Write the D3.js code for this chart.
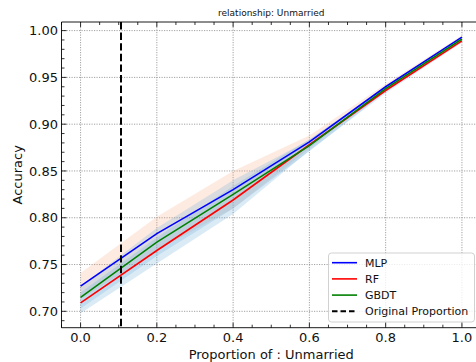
<!DOCTYPE html>
<html>
<head>
<meta charset="utf-8">
<script src="https://cdn.jsdelivr.net/npm/d3@7"></script>
<style>
  body { margin: 0; background: #fff; }
  svg { display: block; font-family: "DejaVu Sans", sans-serif; }
</style>
</head>
<body>
<svg id="chart" width="476" height="362"></svg>
<script>
// Proportion of the "Unmarried" group in the training data
const proportions = [0.0, 0.2, 0.4, 0.6, 0.8, 1.0];

// Mean accuracy per model
const mlpMean  = [0.727, 0.783, 0.830, 0.881, 0.940, 0.993];
const rfMean   = [0.709, 0.765, 0.819, 0.878, 0.936, 0.989];
const gbdtMean = [0.715, 0.774, 0.825, 0.877, 0.938, 0.991];

// Spread (one standard deviation) per model
const mlpStd  = [0.014, 0.018, 0.020, 0.007, 0.003, 0.002];
const rfStd   = [0.011, 0.014, 0.015, 0.006, 0.003, 0.002];
const gbdtStd = [0.012, 0.015, 0.015, 0.006, 0.003, 0.002];

const originalProportion = 0.106;

const xTicks = [0.0, 0.2, 0.4, 0.6, 0.8, 1.0];
const yTicks = [0.70, 0.75, 0.80, 0.85, 0.90, 0.95, 1.00];

const series = [
  { name: "MLP",  mean: mlpMean,  std: mlpStd,  color: "#0000ff", band: "#f6a57a" },
  { name: "RF",   mean: rfMean,   std: rfStd,   color: "#ff0000", band: "#5aa5d8" },
  { name: "GBDT", mean: gbdtMean, std: gbdtStd, color: "#008000", band: "#5aa5d8" }
];

const svg = d3.select("#chart");
const pLeft = 61.5, pRight = 481, pTop = 22, pBottom = 327.7;

const x = d3.scaleLinear().domain([-0.05, 1.05]).range([pLeft, pRight]);
const y = d3.scaleLinear().domain([0.6825, 1.0092]).range([pBottom, pTop]);

svg.append("defs").append("clipPath").attr("id", "plot")
  .append("rect").attr("x", pLeft).attr("y", pTop)
  .attr("width", pRight - pLeft).attr("height", pBottom - pTop);

const plot = svg.append("g").attr("clip-path", "url(#plot)");

// grid
const grid = plot.append("g").attr("stroke", "#8a8a8a").attr("stroke-width", 0.8)
  .attr("stroke-dasharray", "1.2,1.3");
xTicks.forEach(t => grid.append("line").attr("x1", x(t)).attr("x2", x(t)).attr("y1", pTop).attr("y2", pBottom));
yTicks.forEach(t => grid.append("line").attr("x1", pLeft).attr("x2", pRight).attr("y1", y(t)).attr("y2", y(t)));

// std bands
const area = d3.area()
  .x((d, i) => x(proportions[i]))
  .y0(d => y(d[0] - d[1]))
  .y1(d => y(d[0] + d[1]));
series.forEach(s => {
  plot.append("path")
    .datum(s.mean.map((m, i) => [m, s.std[i]]))
    .attr("d", area)
    .attr("fill", s.band)
    .attr("fill-opacity", 0.22);
});

// mean lines
const line = d3.line().x((d, i) => x(proportions[i])).y(d => y(d));
series.forEach(s => {
  plot.append("path").datum(s.mean).attr("d", line)
    .attr("fill", "none").attr("stroke", s.color).attr("stroke-width", 1.6);
});

// original proportion marker
plot.append("line")
  .attr("x1", x(originalProportion)).attr("x2", x(originalProportion))
  .attr("y1", pTop).attr("y2", pBottom)
  .attr("stroke", "#000").attr("stroke-width", 2)
  .attr("stroke-dasharray", "7.4,3.2");

// spines
const spine = svg.append("g").attr("stroke", "#000").attr("stroke-width", 0.9).attr("fill", "none");
spine.append("line").attr("x1", pLeft).attr("x2", pRight).attr("y1", pTop).attr("y2", pTop);
spine.append("line").attr("x1", pLeft).attr("x2", pRight).attr("y1", pBottom).attr("y2", pBottom);
spine.append("line").attr("x1", pLeft).attr("x2", pLeft).attr("y1", pTop).attr("y2", pBottom);
spine.append("line").attr("x1", pRight).attr("x2", pRight).attr("y1", pTop).attr("y2", pBottom);

// ticks (inward, on all sides)
const tickG = svg.append("g").attr("stroke", "#000").attr("stroke-width", 0.8);
const xMinor = d3.range(-0.05, 1.0501, 0.05).filter(v => Math.abs(Math.round(v / 0.2) * 0.2 - v) > 1e-6);
const yMinor = d3.range(0.69, 1.0091, 0.01).filter(v => Math.abs(Math.round(v / 0.05) * 0.05 - v) > 1e-6);
xTicks.forEach(t => {
  tickG.append("line").attr("x1", x(t)).attr("x2", x(t)).attr("y1", pBottom).attr("y2", pBottom - 5);
  tickG.append("line").attr("x1", x(t)).attr("x2", x(t)).attr("y1", pTop).attr("y2", pTop + 5);
});
xMinor.forEach(t => {
  tickG.append("line").attr("x1", x(t)).attr("x2", x(t)).attr("y1", pBottom).attr("y2", pBottom - 3);
  tickG.append("line").attr("x1", x(t)).attr("x2", x(t)).attr("y1", pTop).attr("y2", pTop + 3);
});
yTicks.forEach(t => {
  tickG.append("line").attr("x1", pLeft).attr("x2", pLeft + 5).attr("y1", y(t)).attr("y2", y(t));
});
yMinor.forEach(t => {
  tickG.append("line").attr("x1", pLeft).attr("x2", pLeft + 3).attr("y1", y(t)).attr("y2", y(t));
});

// tick labels
const fmt1 = d3.format(".1f"), fmt2 = d3.format(".2f");
svg.append("g").selectAll("text").data(xTicks).join("text")
  .attr("x", d => x(d)).attr("y", 342)
  .attr("text-anchor", "middle").attr("font-size", 13).attr("fill", "#111")
  .text(d => fmt1(d));
svg.append("g").selectAll("text").data(yTicks).join("text")
  .attr("x", 58).attr("y", d => y(d)).attr("dy", "0.36em")
  .attr("text-anchor", "end").attr("font-size", 13).attr("fill", "#111")
  .text(d => fmt2(d));

// axis titles
svg.append("text").attr("x", (pLeft + pRight) / 2).attr("y", 359)
  .attr("text-anchor", "middle").attr("font-size", 13).attr("fill", "#111")
  .text("Proportion of : Unmarried");
svg.append("text").attr("transform", `translate(22,${(pTop + pBottom) / 2}) rotate(-90)`)
  .attr("text-anchor", "middle").attr("font-size", 13).attr("fill", "#111")
  .text("Accuracy");
svg.append("text").attr("x", (pLeft + pRight) / 2).attr("y", 16)
  .attr("text-anchor", "middle").attr("font-size", 9).attr("fill", "#111")
  .text("relationship: Unmarried");

// legend
const legend = svg.append("g");
legend.append("rect").attr("x", 328.5).attr("y", 253).attr("width", 146).attr("height", 69)
  .attr("rx", 3).attr("fill", "#fff").attr("fill-opacity", 0.8)
  .attr("stroke", "#cccccc").attr("stroke-width", 0.9);
const entries = series.map(s => ({ name: s.name, color: s.color, dash: null, w: 1.6 }))
  .concat([{ name: "Original Proportion", color: "#000", dash: "5.5,3", w: 2 }]);
entries.forEach((e, i) => {
  const cy = 262.7 + i * 16.2;
  legend.append("line").attr("x1", 332).attr("x2", 357).attr("y1", cy).attr("y2", cy)
    .attr("stroke", e.color).attr("stroke-width", e.w)
    .attr("stroke-dasharray", e.dash);
  legend.append("text").attr("x", 365).attr("y", cy).attr("dy", "0.36em")
    .attr("font-size", 11).attr("fill", "#111").text(e.name);
});
</script>
</body>
</html>
